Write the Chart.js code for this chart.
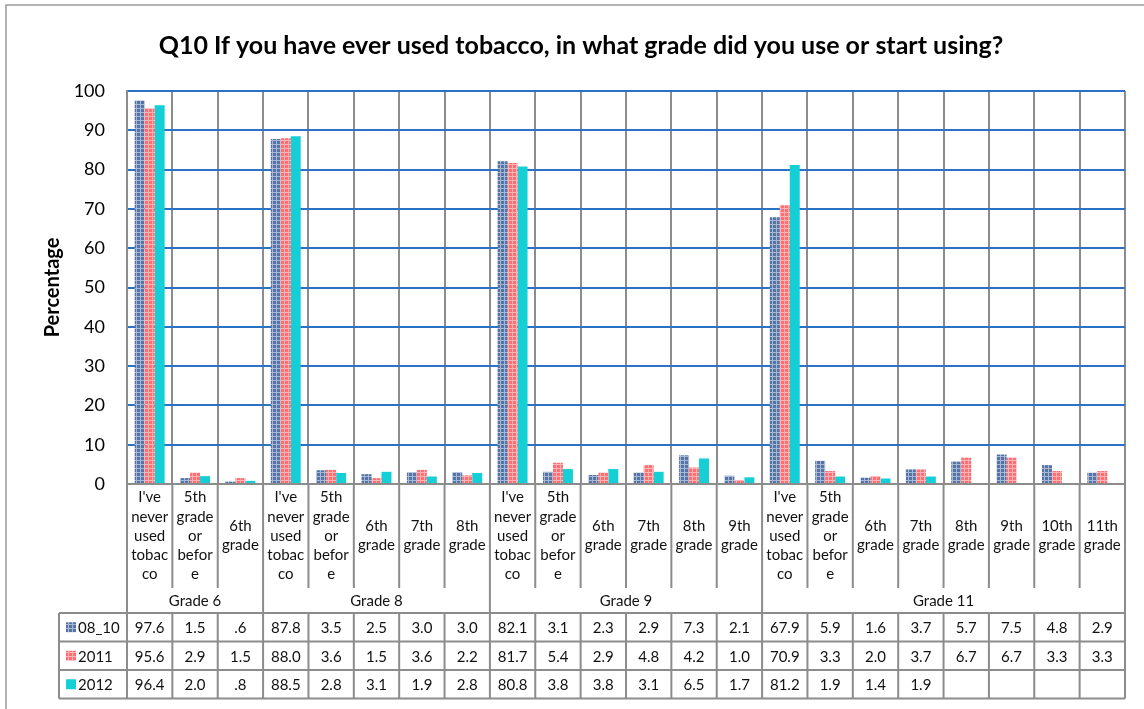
<!DOCTYPE html>
<html>
<head>
<meta charset="utf-8">
<title>Q10 tobacco use</title>
<script src="https://cdn.jsdelivr.net/npm/chart.js"></script>
<style>
  body { margin: 0; background: #fff; }
</style>
</head>
<body>
<canvas id="chart" width="1144" height="709"></canvas>
<script>
// category labels, wrapped the way the narrow cells show them
var categories = [
  ["I've", "never", "used", "tobac", "co"], ["5th", "grade", "or", "befor", "e"], ["6th", "grade"],
  ["I've", "never", "used", "tobac", "co"], ["5th", "grade", "or", "befor", "e"], ["6th", "grade"], ["7th", "grade"], ["8th", "grade"],
  ["I've", "never", "used", "tobac", "co"], ["5th", "grade", "or", "befor", "e"], ["6th", "grade"], ["7th", "grade"], ["8th", "grade"], ["9th", "grade"],
  ["I've", "never", "used", "tobac", "co"], ["5th", "grade", "or", "befor", "e"], ["6th", "grade"], ["7th", "grade"], ["8th", "grade"], ["9th", "grade"], ["10th", "grade"], ["11th", "grade"]
];
var groups = ["Grade 6", "Grade 8", "Grade 9", "Grade 11"];
var groupSizes = [3, 5, 6, 8];

var seriesNames = ["08_10", "2011", "2012"];
var s0810 = [97.6, 1.5, 0.6, 87.8, 3.5, 2.5, 3.0, 3.0, 82.1, 3.1, 2.3, 2.9, 7.3, 2.1, 67.9, 5.9, 1.6, 3.7, 5.7, 7.5, 4.8, 2.9];
var s2011 = [95.6, 2.9, 1.5, 88.0, 3.6, 1.5, 3.6, 2.2, 81.7, 5.4, 2.9, 4.8, 4.2, 1.0, 70.9, 3.3, 2.0, 3.7, 6.7, 6.7, 3.3, 3.3];
var s2012 = [96.4, 2.0, 0.8, 88.5, 2.8, 3.1, 1.9, 2.8, 80.8, 3.8, 3.8, 3.1, 6.5, 1.7, 81.2, 1.9, 1.4, 1.9, null, null, null, null];

var chartTitle = 'Q10 If you have ever used tobacco, in what grade did you use or start using?';

var FONT = 'Lato';
var LINE = '#8c8c8c';

var canvas = document.getElementById('chart');
var mainCtx = canvas.getContext('2d');

// small grid fill like the office pattern fills
function makePattern(base, light) {
    var c = document.createElement('canvas');
    c.width = 4; c.height = 4;
    var g = c.getContext('2d');
    g.fillStyle = base; g.fillRect(0, 0, 4, 4);
    g.fillStyle = light; g.fillRect(0, 0, 4, 1); g.fillRect(0, 0, 1, 4);
    return mainCtx.createPattern(c, 'repeat');
}
var fills = [makePattern('#5573a3', '#a6b8d6'), makePattern('#ff6e73', '#ffb3b5'), '#14cfd6'];

function fmt(v) {
    if (v === null || v === undefined) return '';
    return v.toFixed(1).replace(/^0\./, '.');
}

var tablePlugin = {
    id: 'tablePlugin',
    beforeDraw: function(chart) {
        var ctx = chart.ctx;
        ctx.save();
        ctx.strokeStyle = '#999';
        ctx.lineWidth = 1.5;
        ctx.strokeRect(6, 5, 1160, 730);
        // title, centred inside the frame
        ctx.fillStyle = '#000';
        ctx.font = 'bold 25px ' + FONT;
        ctx.textAlign = 'center';
        ctx.textBaseline = 'middle';
        ctx.fillText(chartTitle, 581, 46);
        ctx.restore();
    },
    afterDraw: function(chart) {
        var ctx = chart.ctx, x = chart.scales.x, area = chart.chartArea;
        var n = categories.length;
        var w = (area.right - area.left) / n;
        function edge(i) { return x.getPixelForValue(i) - w / 2; }

        var labTop = area.bottom, labBottom = 588, grpBottom = 613;
        var rowH = 28.5, tableLeft = 59;
        var data = [s0810, s2011, s2012];

        ctx.save();
        ctx.strokeStyle = LINE;
        ctx.lineWidth = 2;
        ctx.beginPath();
        // category cell separators
        for (var i = 0; i <= n; i++) {
            ctx.moveTo(edge(i), labTop); ctx.lineTo(edge(i), labBottom);
        }
        // group separators
        var k = 0;
        ctx.moveTo(edge(0), labTop); ctx.lineTo(edge(0), grpBottom);
        for (var g = 0; g < groups.length; g++) {
            k += groupSizes[g];
            ctx.moveTo(edge(k), labTop); ctx.lineTo(edge(k), grpBottom);
        }
        // table grid
        for (var r = 0; r <= 3; r++) {
            ctx.moveTo(tableLeft, grpBottom + r * rowH); ctx.lineTo(edge(n), grpBottom + r * rowH);
        }
        ctx.moveTo(tableLeft, grpBottom); ctx.lineTo(tableLeft, grpBottom + 3 * rowH);
        for (var j = 0; j <= n; j++) {
            ctx.moveTo(edge(j), grpBottom); ctx.lineTo(edge(j), grpBottom + 3 * rowH);
        }
        ctx.stroke();

        ctx.fillStyle = '#111';
        ctx.textAlign = 'center';
        ctx.textBaseline = 'middle';
        ctx.font = '15px ' + FONT;
        // category labels
        var lh = 19.3, mid = (labTop + labBottom) / 2;
        categories.forEach(function(lines, i) {
            var cx = x.getPixelForValue(i);
            var y0 = mid - (lines.length - 1) * lh / 2;
            lines.forEach(function(t, li) { ctx.fillText(t, cx, y0 + li * lh); });
        });
        // group labels
        k = 0;
        groups.forEach(function(name, g) {
            var a = edge(k), b = edge(k + groupSizes[g]);
            ctx.fillText(name, (a + b) / 2, (labBottom + grpBottom) / 2 + 1);
            k += groupSizes[g];
        });
        // table rows
        data.forEach(function(vals, r) {
            var cy = grpBottom + r * rowH + rowH / 2 + 1;
            vals.forEach(function(v, i) {
                ctx.fillText(fmt(v), x.getPixelForValue(i), cy);
            });
            ctx.fillStyle = fills[r];
            ctx.fillRect(66, cy - 6, 10, 10);
            ctx.fillStyle = '#111';
            ctx.textAlign = 'left';
            ctx.fillText(seriesNames[r], 78, cy);
            ctx.textAlign = 'center';
        });
        ctx.restore();
    }
};

function draw() {
    new Chart(canvas, {
        type: 'bar',
        data: {
            labels: categories,
            datasets: [
                { label: seriesNames[0], data: s0810, backgroundColor: fills[0] },
                { label: seriesNames[1], data: s2011, backgroundColor: fills[1] },
                { label: seriesNames[2], data: s2012, backgroundColor: fills[2] }
            ]
        },
        options: {
            responsive: false,
            animation: false,
            categoryPercentage: 0.66,
            barPercentage: 1.0,
            layout: { padding: { left: 0, right: 19, top: 91, bottom: 225 } },
            plugins: {
                legend: { display: false },
                tooltip: { enabled: false },
                title: { display: false }
            },
            scales: {
                x: {
                    ticks: { display: false },
                    grid: { color: LINE, lineWidth: 2, drawTicks: false, offset: true },
                    border: { color: LINE, width: 2 },
                    afterFit: function(s) { s.height = 0; }
                },
                y: {
                    min: 0,
                    max: 100,
                    ticks: { stepSize: 10, padding: 22, color: '#000', font: { family: FONT, size: 18 } },
                    grid: { color: '#2a72c4', lineWidth: 2, drawTicks: false },
                    border: { color: LINE, width: 2 },
                    title: {
                        display: true,
                        text: 'Percentage',
                        color: '#000',
                        font: { family: FONT, size: 20, weight: 'bold', lineHeight: 1.2 },
                        padding: { top: 41, bottom: 0 }
                    },
                    afterFit: function(s) { s.width = 127; }
                }
            }
        },
        plugins: [tablePlugin]
    });
}

Promise.all([
    document.fonts.load('15px ' + FONT),
    document.fonts.load('bold 25px ' + FONT)
]).then(draw, draw);
</script>
</body>
</html>
